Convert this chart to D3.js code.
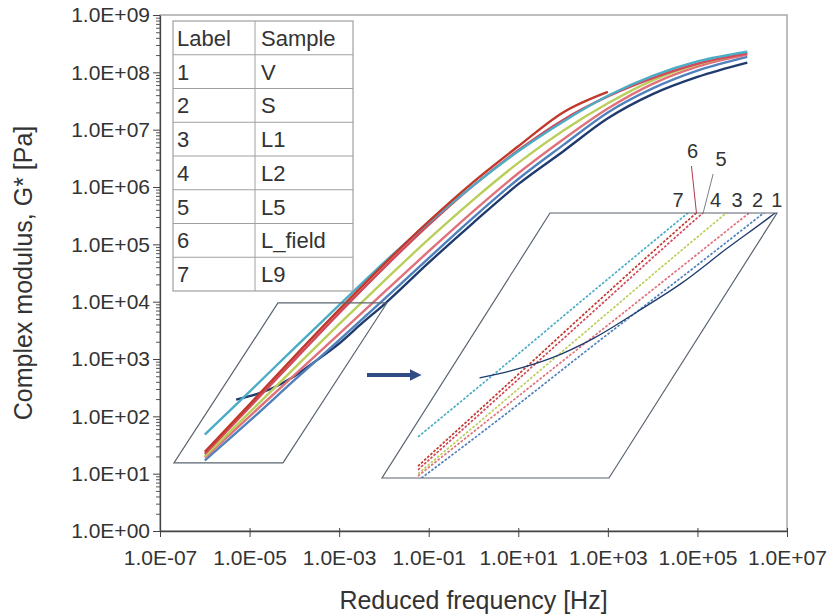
<!DOCTYPE html>
<html>
<head>
<meta charset="utf-8">
<script src="https://cdn.jsdelivr.net/npm/d3@7"></script>
<style>
  body { margin: 0; background: #fff; }
  svg { display: block; }
  text { font-family: "Liberation Sans", Arial, sans-serif; fill: #333; }
</style>
</head>
<body>
<svg id="chart" width="834" height="614"></svg>
<script>
// ---- data -------------------------------------------------------------
const sampleLabels = ["1", "2", "3", "4", "5", "6", "7"];
const sampleNames  = ["V", "S", "L1", "L2", "L5", "L_field", "L9"];

// reduced frequency grid [Hz] shared by most samples
const freqCommon = [1e-6, 1e-5, 1e-4, 1e-3, 1e-2, 1e-1, 1, 10, 100, 1e3, 1e4, 1e5, 1.3e6];
const freqV      = [5e-6, 1.1e-5, 3.2e-5, 1e-4, 3.2e-4, 1e-3, 3.2e-3, 1e-2, 1e-1, 1, 10, 100, 1e3, 1e4, 1e5, 1.3e6];
const freqLfield = [1e-6, 1e-5, 1e-4, 1e-3, 1e-2, 1e-1, 1, 10, 100, 1e3];

// complex modulus G* [Pa]
const gV      = [195, 229, 309, 501, 955, 1860, 4170, 8910, 4.79e4, 2.4e5, 1.12e6, 4.17e6, 1.58e7, 4.17e7, 8.32e7, 1.48e8];
const gS      = [17, 83, 427, 2140, 1.1e4, 5.75e4, 2.95e5, 1.38e6, 5.37e6, 2.0e7, 5.25e7, 1.07e8, 1.86e8];
const gL1     = [19, 100, 525, 2750, 1.45e4, 7.59e4, 3.8e5, 1.74e6, 6.76e6, 2.34e7, 6.31e7, 1.26e8, 2.04e8];
const gL2     = [20, 117, 692, 4070, 2.29e4, 1.23e5, 6.03e5, 2.63e6, 9.55e6, 2.88e7, 7.24e7, 1.38e8, 2.19e8];
const gL5     = [22, 145, 955, 6310, 3.89e4, 2.19e5, 1.07e6, 4.37e6, 1.48e7, 3.8e7, 7.94e7, 1.41e8, 2.14e8];
const gLfield = [24, 162, 1100, 7240, 4.47e4, 2.51e5, 1.23e6, 5.13e6, 2.0e7, 4.57e7];
const gL9     = [48, 270, 1550, 8700, 4.8e4, 2.4e5, 1.07e6, 4.2e6, 1.38e7, 3.9e7, 8.7e7, 1.55e8, 2.29e8];

const xTickValues = [1e-7, 1e-5, 1e-3, 1e-1, 1e1, 1e3, 1e5, 1e7];
const xTickLabels = ["1.0E-07", "1.0E-05", "1.0E-03", "1.0E-01", "1.0E+01", "1.0E+03", "1.0E+05", "1.0E+07"];
const yTickValues = [1, 1e1, 1e2, 1e3, 1e4, 1e5, 1e6, 1e7, 1e8, 1e9];
const yTickLabels = ["1.0E+00", "1.0E+01", "1.0E+02", "1.0E+03", "1.0E+04", "1.0E+05", "1.0E+06", "1.0E+07", "1.0E+08", "1.0E+09"];

// region of the curves that is magnified in the inset (frequency, modulus corners)
const zoomBoxFreq = [2.05e-7, 5.57e-5, 1.17e-2, 4.3e-5];
const zoomBoxG    = [15.4, 15.4, 9490, 9490];

// ---- styling -----------------------------------------------------------
const seriesColors = ["#1f3b6e", "#4f81bd", "#e0707a", "#b9cf5a", "#d2495b", "#c0392b", "#4bacc6"];
const drawOrder = [0, 1, 2, 3, 4, 6, 5];
const fontFamily = "Liberation Sans, Arial, sans-serif";

const seriesData = [
  freqV.map((f, i) => ({ f, g: gV[i] })),
  freqCommon.map((f, i) => ({ f, g: gS[i] })),
  freqCommon.map((f, i) => ({ f, g: gL1[i] })),
  freqCommon.map((f, i) => ({ f, g: gL2[i] })),
  freqCommon.map((f, i) => ({ f, g: gL5[i] })),
  freqLfield.map((f, i) => ({ f, g: gLfield[i] })),
  freqCommon.map((f, i) => ({ f, g: gL9[i] }))
];

const svg = d3.select("#chart");
const plot = { left: 160, right: 787, top: 15, bottom: 531 };

const x = d3.scaleLog().domain([1e-7, 1e7]).range([plot.left, plot.right]);
const y = d3.scaleLog().domain([1, 1e9]).range([plot.bottom, plot.top]);

// frame around the plot area
svg.append("rect")
  .attr("x", plot.left).attr("y", plot.top)
  .attr("width", plot.right - plot.left).attr("height", plot.bottom - plot.top)
  .attr("fill", "none").attr("stroke", "#a8a8a8").attr("stroke-width", 1.5);

// ---- axes ----------------------------------------------------------------
const xAxis = svg.append("g")
  .attr("transform", `translate(0,${plot.bottom})`)
  .call(d3.axisBottom(x).tickValues(xTickValues).tickFormat((d, i) => xTickLabels[i]).tickSize(6).tickSizeOuter(0));
xAxis.select(".domain").attr("stroke", "#444").attr("stroke-width", 1.3);
xAxis.selectAll(".tick line").attr("stroke", "#444").attr("y1", -3);
xAxis.selectAll(".tick text").attr("font-size", 21).attr("dy", "1.2em")
  .style("font-family", fontFamily).attr("fill", "#333");

const yMinor = [];
for (let e = 0; e < 9; e++) for (let k = 2; k <= 9; k++) yMinor.push(k * Math.pow(10, e));
const yMinorAxis = svg.append("g")
  .attr("transform", `translate(${plot.left},0)`)
  .call(d3.axisLeft(y).tickValues(yMinor).tickFormat("").tickSize(4).tickSizeOuter(0));
yMinorAxis.select(".domain").remove();
yMinorAxis.selectAll(".tick line").attr("stroke", "#555");

const yAxis = svg.append("g")
  .attr("transform", `translate(${plot.left},0)`)
  .call(d3.axisLeft(y).tickValues(yTickValues).tickFormat((d, i) => yTickLabels[i]).tickSize(7).tickSizeOuter(0));
yAxis.select(".domain").attr("stroke", "#444").attr("stroke-width", 1.3);
yAxis.selectAll(".tick line").attr("stroke", "#444");
yAxis.selectAll(".tick text").attr("font-size", 21).attr("x", -10)
  .style("font-family", fontFamily).attr("fill", "#333");

svg.append("text")
  .attr("x", (plot.left + plot.right) / 2).attr("y", 609)
  .attr("text-anchor", "middle").attr("font-size", 25)
  .text("Reduced frequency [Hz]");

svg.append("text")
  .attr("transform", `translate(32,${(plot.top + plot.bottom) / 2}) rotate(-90)`)
  .attr("text-anchor", "middle").attr("font-size", 25)
  .text("Complex modulus, G* [Pa]");

// ---- master curves ----------------------------------------------------------
const line = d3.line().x(d => x(d.f)).y(d => y(d.g)).curve(d3.curveMonotoneX);
const curves = svg.append("g");
drawOrder.forEach(i => {
  curves.append("path")
    .attr("d", line(seriesData[i]))
    .attr("fill", "none")
    .attr("stroke", seriesColors[i])
    .attr("stroke-width", 2.4)
    .attr("stroke-linejoin", "round");
});

// box marking the magnified region
const boxPts = zoomBoxFreq.map((f, i) => [x(f), y(zoomBoxG[i])]);
svg.append("path")
  .attr("d", "M" + boxPts.map(p => p.join(",")).join("L") + "Z")
  .attr("fill", "none").attr("stroke", "#5a6470").attr("stroke-width", 1.2);

// ---- inset ---------------------------------------------------------------
const inset = { bl: [382, 478], br: [609, 478], tr: [777, 213], tl: [550, 213] };
const xIn = d3.scaleLog().domain([1e-6, 1e-2]).range([418, 770]);
const yIn = d3.scaleLog().domain([10, 1e4]).range([503, 212]);

const insetPoly = [inset.bl, inset.br, inset.tr, inset.tl];
svg.append("clipPath").attr("id", "insetClip")
  .append("path").attr("d", "M" + insetPoly.map(p => p.join(",")).join("L") + "Z");

const lineIn = d3.line().x(d => xIn(d.f)).y(d => yIn(d.g)).curve(d3.curveMonotoneX);
const insetG = svg.append("g").attr("clip-path", "url(#insetClip)");
[6, 5, 4, 3, 2, 1, 0].forEach(i => {
  insetG.append("path")
    .attr("d", lineIn(seriesData[i]))
    .attr("fill", "none")
    .attr("stroke", seriesColors[i])
    .attr("stroke-width", i === 0 ? 1.3 : 1.7)
    .attr("stroke-dasharray", i === 0 ? null : "2.6,1.6");
});

svg.append("path")
  .attr("d", "M" + insetPoly.map(p => p.join(",")).join("L") + "Z")
  .attr("fill", "none").attr("stroke", "#5a6470").attr("stroke-width", 1.2);

// where each curve leaves the inset through its top edge
const topG = yIn.invert(inset.tl[1]);
function crossingFreq(pts, g) {
  for (let k = 1; k < pts.length; k++) {
    const a = pts[k - 1], b = pts[k];
    if ((a.g - g) * (b.g - g) <= 0) {
      const t = (Math.log10(g) - Math.log10(a.g)) / (Math.log10(b.g) - Math.log10(a.g));
      return Math.pow(10, Math.log10(a.f) + t * (Math.log10(b.f) - Math.log10(a.f)));
    }
  }
  return pts[pts.length - 1].f;
}
const labelNudge = [[2, -6], [-6, -6], [-12, -6], [-11, -6], [18, -47], [-4, -55], [-10, -6]];
const labelsG = svg.append("g");
seriesData.forEach((pts, i) => {
  const ex = xIn(crossingFreq(pts, topG));
  const ey = inset.tl[1];
  const lx = ex + labelNudge[i][0], ly = ey + labelNudge[i][1];
  if (i === 4 || i === 5) {
    labelsG.append("line")
      .attr("x1", ex).attr("y1", ey)
      .attr("x2", lx - (i === 4 ? 8 : 1)).attr("y2", ly + 8)
      .attr("stroke", i === 5 ? "#b03a48" : "#7a7f88").attr("stroke-width", 1);
  }
  labelsG.append("text")
    .attr("x", lx).attr("y", ly)
    .attr("text-anchor", "middle").attr("font-size", 20)
    .text(sampleLabels[i]);
});

// arrow pointing to the inset
svg.append("defs").append("marker")
  .attr("id", "arrowHead").attr("viewBox", "0 0 10 10")
  .attr("refX", 2).attr("refY", 5).attr("markerWidth", 3).attr("markerHeight", 3)
  .attr("orient", "auto")
  .append("path").attr("d", "M0,0L10,5L0,10Z").attr("fill", "#2f4d84");
svg.append("line")
  .attr("x1", 367).attr("y1", 375).attr("x2", 412).attr("y2", 375)
  .attr("stroke", "#2f4d84").attr("stroke-width", 4)
  .attr("marker-end", "url(#arrowHead)");

// ---- sample table ---------------------------------------------------------------
const table = { x0: 173, x1: 255, x2: 353, y0: 21, rowH: 33.75 };
const rows = [["Label", "Sample"]].concat(sampleLabels.map((l, i) => [l, sampleNames[i]]));
const tg = svg.append("g");
tg.append("rect")
  .attr("x", table.x0).attr("y", table.y0)
  .attr("width", table.x2 - table.x0).attr("height", rows.length * table.rowH)
  .attr("fill", "#fff").attr("stroke", "#a0a0a0").attr("stroke-width", 1.2);
rows.forEach((r, i) => {
  const ry = table.y0 + i * table.rowH;
  if (i > 0) tg.append("line").attr("x1", table.x0).attr("x2", table.x2)
    .attr("y1", ry).attr("y2", ry).attr("stroke", "#a0a0a0").attr("stroke-width", 1);
  tg.append("text").attr("x", table.x0 + 4).attr("y", ry + table.rowH / 2 + 8)
    .attr("font-size", 22).text(r[0]);
  tg.append("text").attr("x", table.x1 + 6).attr("y", ry + table.rowH / 2 + 8)
    .attr("font-size", 22).text(r[1]);
});
tg.append("line").attr("x1", table.x1).attr("x2", table.x1)
  .attr("y1", table.y0).attr("y2", table.y0 + rows.length * table.rowH)
  .attr("stroke", "#a0a0a0").attr("stroke-width", 1);
</script>
</body>
</html>
